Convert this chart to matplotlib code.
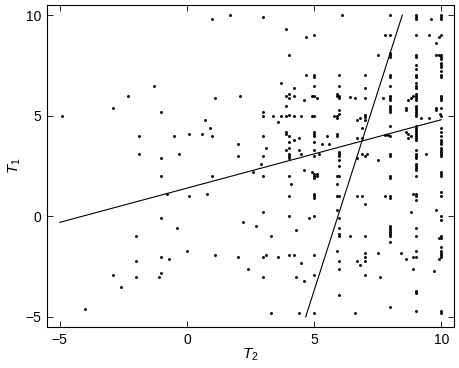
import numpy as np
import matplotlib
matplotlib.use("Agg")
import matplotlib.pyplot as plt

plt.rcParams['font.family'] = ['Liberation Sans', 'DejaVu Sans']
plt.rcParams['mathtext.fontset'] = 'custom'
plt.rcParams['mathtext.rm'] = 'Liberation Sans'
plt.rcParams['mathtext.it'] = 'Liberation Sans:italic'

# ==========================================
# data: (T2, T1) pairs
# ==========================================
left_pts = [
    (-4.9, 5.0), (-2.9, 5.4), (-2.3, 6.0), (-1.3, 6.5), (-1.0, 5.2), (-1.9, 4.0),
    (-0.5, 4.0), (0.1, 4.1), (-1.9, 3.1), (-1.0, 2.9), (-0.3, 3.1), (-1.0, 2.0),
    (-0.8, 1.1), (0.1, 1.0), (-1.0, -0.1), (-0.4, -0.6), (-2.0, -1.0), (0.0, -1.7),
    (-1.0, -2.0), (-0.7, -2.1), (-2.0, -2.2), (-2.9, -2.9), (-2.0, -3.0), (-1.1, -3.0),
    (-1.0, -2.8), (-2.6, -3.5), (-4.0, -4.6),
]
mid_pts = [
    (1.0, 9.8), (1.7, 10.0), (3.0, 9.9), (3.9, 9.3), (4.7, 8.9), (4.0, 8.0), (4.7, 7.0),
    (3.7, 6.6), (4.2, 6.4), (1.1, 5.9), (2.1, 6.0), (4.0, 6.1), (3.9, 6.0), (4.0, 5.9),
    (4.2, 6.0), (4.6, 5.8), (4.9, 6.0), (3.9, 5.5), (3.0, 5.2), (3.0, 5.0), (3.4, 5.0),
    (3.7, 5.0), (3.9, 5.0), (4.0, 5.05), (4.2, 5.0), (4.5, 5.0), (4.9, 5.0), (3.6, 4.7),
    (0.7, 4.8), (0.9, 4.4), (0.6, 4.1), (1.0, 4.0), (3.0, 4.0), (3.9, 4.2), (3.9, 4.1),
    (4.0, 4.0), (4.2, 3.8), (4.4, 3.9), (2.0, 3.6), (3.1, 3.4), (4.0, 3.7), (4.0, 3.4),
    (3.9, 3.3), (4.4, 3.3), (2.0, 3.0), (3.0, 3.0), (4.0, 3.1), (4.0, 3.0), (4.0, 2.9),
    (4.5, 3.1), (2.9, 2.6), (4.6, 2.3), (2.6, 2.2), (4.9, 2.2), (1.0, 2.0), (3.0, 2.0),
    (4.0, 2.0), (4.1, 1.6), (0.8, 1.1), (4.0, 1.0), (3.0, 0.2), (4.0, 0.0), (4.8, -0.1),
    (2.2, -0.3), (2.7, -0.5), (4.3, -0.7), (3.3, -1.0), (1.1, -1.9), (2.0, -2.0),
    (3.0, -2.0), (3.1, -1.9), (3.6, -2.0), (4.0, -1.9), (4.2, -1.9), (4.5, -2.3),
    (2.4, -2.6), (3.0, -3.0), (4.3, -3.0), (4.6, -3.2), (3.3, -4.8), (4.4, -4.8),
]
# T2 ~ 5 .. 10 scattered values
right_pts = [
    (5.1, 5.9), (5.2, 3.1), (5.1, 2.1), (5.1, 2.0), (5.3, 3.6), (5.6, 3.6), (5.5, 4.0),
    (6.1, 10.0), (5.9, 6.1), (5.9, 6.0), (6.4, 5.95), (6.6, 5.9), (5.8, 5.0), (5.9, 5.0),
    (5.9, 4.9), (5.9, 4.1), (5.9, 4.0), (5.9, 2.0), (5.9, 1.6), (5.9, 1.0), (5.9, 0.3),
    (5.9, -1.7), (6.4, -1.0), (6.7, 4.8), (6.8, 4.9), (6.9, 4.4), (6.7, 3.9), (6.9, 3.9),
    (6.7, 2.9), (6.9, 3.1), (7.1, 3.1), (7.5, 2.8), (6.7, 1.0), (6.9, 1.0), (6.7, -2.2),
    (6.8, -2.4), (7.5, -1.8), (7.6, -3.0), (6.6, -4.8), (7.5, 8.0), (7.8, 9.0), (7.7, 5.9),
    (7.8, 4.05), (7.9, 4.05), (7.8, 1.0), (8.4, -1.8), (8.6, -2.1), (8.6, 5.3), (8.6, 5.4),
    (8.7, 5.8), (8.8, 5.9), (8.9, 6.0), (8.6, 4.2), (8.7, 4.1), (8.8, 4.0), (8.7, 3.9),
    (8.8, 0.2), (8.9, 1.1), (8.9, -2.0), (8.9, -2.6), (9.2, 4.9), (9.5, 4.9), (9.4, 3.1),
    (9.5, 9.0), (9.6, 9.8), (9.9, 8.9), (9.8, 8.6), (9.8, 8.0), (9.9, 8.0), (9.8, 5.4),
    (9.8, 5.3), (9.95, 5.1), (9.8, 0.3), (9.9, -1.1), (9.9, -2.1), (9.7, -2.7),
]
# vertical stacks of T1 values at integer T2
col5 = [9.0, 7.0, 6.9, 6.5, 6.0, 5.0, 4.2, 4.1, 4.0, 3.7, 3.3, 3.0, 2.1, 2.0, 1.9,
        1.1, 1.0, 0.9, 0.0, -1.9, -2.9, -4.8]
col6 = [7.0, 6.5, 6.0, 5.9, 5.3, 5.1, 3.2, 3.1, 3.0, 2.8, 2.5, 2.0, 1.0, -0.1, -0.6,
        -0.9, -1.0, -2.2, -2.6, -3.9]
col7 = [7.0, 6.4, 5.9, 5.05, 4.95, 4.8, 3.0, 0.6, -1.0, -1.8, -2.0, -2.2, -2.9]
col8 = [10.0, 9.0, 8.1, 8.0, 7.9, 7.0, 6.9, 6.5, 6.0, 5.9, 5.8, 5.5, 5.4, 5.3, 5.2,
        4.5, 4.0, 3.1, 3.0, 2.0, 1.9, 1.0, 0.9, -0.46, -0.56, -0.66, -0.76, -0.86,
        -0.96, -1.3, -4.5]
col9 = [10.0, 9.9, 9.8, 9.0, 8.0, 7.9, 7.5, 7.3, 7.0, 6.9, 6.6, 6.5, 6.4, 6.1, 6.0,
        5.9, 5.8, 5.5, 5.4, 5.3, 5.2, 5.1, 5.0, 4.5, 4.4, 4.3, 4.2, 4.1, 4.0, 3.9, 3.8,
        3.3, 3.1, 3.0, 2.9, 2.6, 2.5, 2.4, 2.3, 2.0, 1.1, 1.0, 0.8, -0.6, -1.0, -1.7,
        -2.0, -3.7, -3.8, -4.7]
col10 = [10.0, 9.9, 9.8, 9.0, 8.0, 7.9, 7.8, 7.6, 7.5, 7.4, 7.2, 7.0, 6.9, 6.0, 5.9,
         5.8, 5.4, 5.0, 4.4, 4.2, 4.0, 3.8, 3.7, 3.6, 3.4, 3.3, 3.2, 3.1, 3.0, 2.2, 2.1,
         2.0, 1.2, 1.0, 0.0, -0.2, -1.0, -1.1, -1.5, -1.7, -1.8, -1.9, -2.0, -4.7, -4.8]
columns = {5: col5, 6: col6, 7: col7, 8: col8, 9: col9, 10: col10}

# fitted lines: T1 on T2, and T2 on T1 (end points)
fit1_t2 = [-5, 10]
fit1_t1 = [-0.3, 4.8]
fit2_t2 = [4.67, 8.47]
fit2_t1 = [-5, 10]

pts = left_pts + mid_pts + right_pts
for k, vals in columns.items():
    pts += [(k, v) for v in vals]
t2 = np.array([p[0] for p in pts])
t1 = np.array([p[1] for p in pts])

# ==========================================
# plot
# ==========================================
fig = plt.figure(figsize=(4.59, 3.68), dpi=100)
ax = fig.add_axes([0.1024, 0.1114, 0.8866, 0.875])

ax.plot(t2, t1, '.', color='k', markersize=4.2, markeredgewidth=0)
ax.plot(fit1_t2, fit1_t1, color='k', lw=0.8)
ax.plot(fit2_t2, fit2_t1, color='k', lw=0.8)

ax.set_xlim(-5.5, 10.5)
ax.set_ylim(-5.5, 10.5)
ax.set_xticks([-5, 0, 5, 10])
ax.set_yticks([-5, 0, 5, 10])
ax.set_xticklabels(['\u22125', '0', '5', '10'])
ax.set_yticklabels(['\u22125', '0', '5', '10'])
ax.tick_params(direction='in', length=4, width=0.6, top=True, right=True,
               labelsize=10, pad=4)
for s in ax.spines.values():
    s.set_linewidth(0.8)

ax.set_xlabel('$T_2$', fontsize=11, labelpad=0)
ax.set_ylabel('$T_1$', fontsize=11, labelpad=2)

fig.savefig('out.png', dpi=100)
